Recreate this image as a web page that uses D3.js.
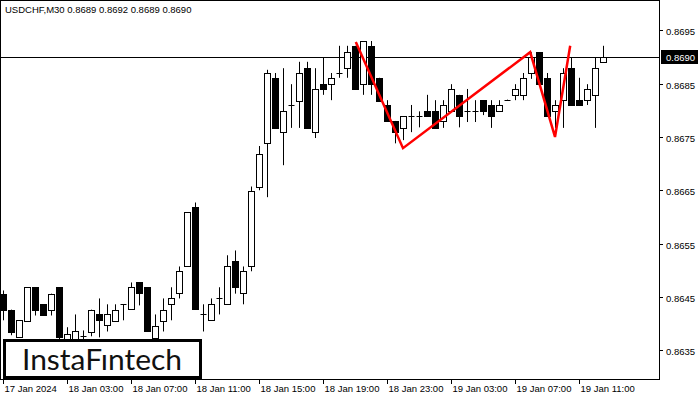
<!DOCTYPE html>
<html><head><meta charset="utf-8">
<script src="https://cdn.jsdelivr.net/npm/d3@7"></script>
<style>body{margin:0;background:#fff}svg{display:block}</style>
</head><body>
<svg id="c" width="700" height="400"></svg>
<script>
const candles = [
[.86456,.86462,.86406,.86426],[.86426,.86426,.86378,.86385],[.86374,.86406,.86374,.86406],[.86404,.86468,.86404,.86468],
[.86468,.86468,.86415,.86424],[.86436,.86436,.86415,.86415],[.86426,.86456,.86415,.86456],[.86468,.86468,.86368,.86374],
[.86372,.86393,.86359,.86381],[.86368,.86417,.86359,.86385],[.86376,.86387,.86359,.86377],[.86385,.86426,.86376,.86426],
[.86417,.86447,.86374,.86406],[.86396,.86436,.86385,.86417],[.86406,.86436,.86406,.86426],[.86436,.86436,.86406,.86437],
[.86426,.86477,.86426,.86468],[.86477,.86477,.86434,.86456],[.86468,.86468,.86385,.86385],[.86374,.86417,.86368,.86396],
[.86406,.86447,.86385,.86426],[.86436,.86468,.86406,.86447],[.86456,.86507,.86447,.86498],[.86507,.86609,.86507,.86609],
[.86618,.86627,.86426,.86426],[.86417,.86436,.86385,.86418],[.86406,.86447,.86406,.86436],[.86447,.86468,.86417,.86448],
[.86436,.86528,.86436,.86507],[.86517,.86537,.86456,.86468],[.86456,.86507,.86436,.86498],[.86507,.86657,.86498,.86648],
[.86656,.86733,.86650,.86718],[.86738,.86876,.86637,.86870],[.86861,.86870,.86767,.86767],[.86759,.86879,.86697,.86798],
[.86810,.86849,.86767,.86811],[.86817,.86891,.86767,.86870],[.86879,.86891,.86767,.86767],[.86759,.86879,.86748,.86840],
[.86849,.86900,.86829,.86840],[.86849,.86870,.86819,.86861],[.86870,.86921,.86861,.86871],[.86879,.86921,.86861,.86909],
[.86921,.86921,.86840,.86840],[.86849,.86930,.86829,.86930],[.86921,.86930,.86829,.86849],[.86861,.86861,.86817,.86817],
[.86810,.86819,.86780,.86780],[.86780,.86780,.86738,.86759],[.86767,.86789,.86744,.86789],[.86789,.86810,.86759,.86790],
[.86789,.86798,.86768,.86790],[.86798,.86829,.86789,.86789],[.86798,.86819,.86767,.86767],[.86780,.86819,.86767,.86810],
[.86798,.86849,.86798,.86840],[.86829,.86829,.86768,.86789],[.86798,.86840,.86778,.86799],[.86798,.86819,.86778,.86799],
[.86819,.86819,.86791,.86798],[.86810,.86819,.86767,.86789],[.86798,.86819,.86798,.86810],[.86819,.86820,.86818,.86820],
[.86829,.86849,.86819,.86840],[.86829,.86870,.86819,.86861],[.86870,.86909,.86859,.86900],[.86909,.86909,.86849,.86849],
[.86861,.86870,.86789,.86789],[.86798,.86819,.86767,.86810],[.86819,.86879,.86767,.86870],[.86879,.86900,.86810,.86810],
[.86819,.86861,.86810,.86810],[.86819,.86849,.86810,.86840],[.86829,.86900,.86767,.86879],[.86891,.86921,.86891,.86900]
];
const priceTicks = [0.8635,0.8645,0.8655,0.8665,0.8675,0.8685,0.8695];
const timeLabels = ["17 Jan 2024","18 Jan 03:00","18 Jan 07:00","18 Jan 11:00","18 Jan 15:00","18 Jan 19:00","18 Jan 23:00","19 Jan 03:00","19 Jan 07:00","19 Jan 11:00"];
const timeLabelIdx = [0,8,16,24,32,40,48,56,64,72];
const pattern = [[44.1,0.86928],[50,0.86729],[65.9,0.86909],[69,0.86750],[70.9,0.86921]];
const lastPrice = 0.8690;
const title = "USDCHF,M30  0.8689 0.8692 0.8689 0.8690";

const svg = d3.select("#c");
const W=659, H=379;
const x = d3.scaleLinear().domain([0,75]).range([3,603]);
const y = d3.scaleLinear().domain([0.869-322/53300, 0.869+57/53300]).range([H,0]);

svg.append("rect").attr("x",0.5).attr("y",0.5).attr("width",W).attr("height",H).attr("fill","#fff").attr("stroke","#000");

const g = svg.append("g");
g.append("line").attr("x1",1).attr("x2",W).attr("y1",Math.round(y(lastPrice))+0.5).attr("y2",Math.round(y(lastPrice))+0.5).attr("stroke","#000");

candles.forEach((c,i)=>{
  const [o,h,l,cl]=c; const cx=Math.round(x(i))+0.5;
  g.append("line").attr("x1",cx).attr("x2",cx).attr("y1",y(h)).attr("y2",y(l)).attr("stroke","#000");
  const top=Math.min(y(o),y(cl)), bh=Math.abs(y(o)-y(cl));
  if(bh<1.5){
    g.append("line").attr("x1",cx-3).attr("x2",cx+3).attr("y1",Math.round(y(o))+0.5).attr("y2",Math.round(y(o))+0.5).attr("stroke","#000");
  } else {
    g.append("rect").attr("x",cx-3).attr("y",Math.round(top)+0.5).attr("width",6).attr("height",Math.round(bh))
     .attr("fill",cl>=o?"#fff":"#000").attr("stroke","#000");
  }
});

g.append("path").datum(pattern).attr("fill","none").attr("stroke","#ff0000").attr("stroke-width",2.5)
 .attr("d",d3.line().x(d=>x(d[0])).y(d=>y(d[1])));

const ax = svg.append("g").attr("font-family","Liberation Sans, Arial, sans-serif").attr("font-size",9.5);
priceTicks.forEach(p=>{
  const yy=Math.round(y(p))+0.5;
  ax.append("line").attr("x1",W).attr("x2",W+4).attr("y1",yy).attr("y2",yy).attr("stroke","#000");
  ax.append("text").attr("x",666).attr("y",yy+4).text(p.toFixed(4));
});
const ly=Math.round(y(lastPrice));
ax.append("rect").attr("x",661).attr("y",ly-7).attr("width",37).attr("height",14).attr("fill","#000");
ax.append("text").attr("x",666).attr("y",ly+4).attr("fill","#fff").text(lastPrice.toFixed(4));

timeLabels.forEach((t,k)=>{
  const xx=Math.round(x(timeLabelIdx[k]))+0.5;
  ax.append("line").attr("x1",xx).attr("x2",xx).attr("y1",H).attr("y2",H+5).attr("stroke","#000");
  ax.append("text").attr("x",xx+1).attr("y",392).attr("text-anchor","start").text(t);
});

svg.append("text").attr("x",5).attr("y",13).attr("font-family","Liberation Sans, Arial, sans-serif").attr("font-size",9.5).text(title);

svg.append("rect").attr("x",4.5).attr("y",340.5).attr("width",196).attr("height",37).attr("fill","#fff").attr("stroke","#000").attr("stroke-width",3);
svg.append("text").attr("x",22).attr("y",370).attr("textLength",160).attr("lengthAdjust","spacingAndGlyphs")
 .attr("font-family","Lato, sans-serif").attr("font-size",28).attr("font-weight",400).attr("fill","#111").text("InstaFıntech");
</script>
</body></html>
